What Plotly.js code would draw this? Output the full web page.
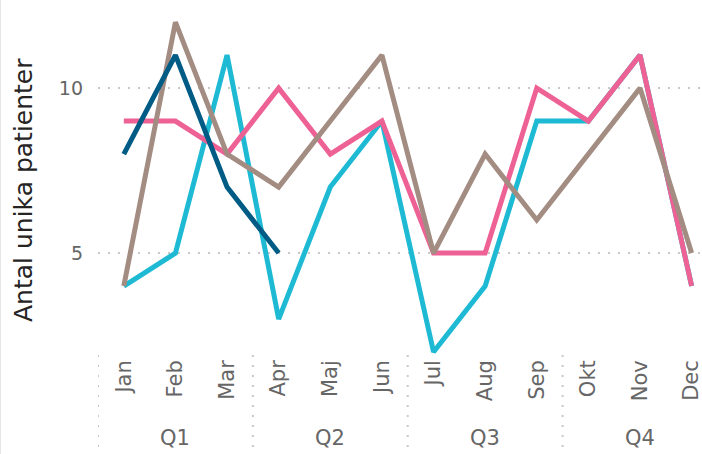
<!DOCTYPE html>
<html>
<head>
<meta charset="utf-8">
<script src="https://cdn.plot.ly/plotly-3.0.1.min.js"></script>
<style>
html,body{margin:0;padding:0;background:#fff;}
#chart{width:702px;height:454px;box-sizing:border-box;border-left:1px solid #e6e6e6;}
</style>
</head>
<body>
<div id="chart"></div>
<script>
const months = ["Jan","Feb","Mar","Apr","Maj","Jun","Jul","Aug","Sep","Okt","Nov","Dec"];
const quarters = ["Q1","Q2","Q3","Q4"];
const monthsPerQuarter = 3;
const seriesCyan  = [4, 5, 11, 3, 7, 9, 2, 4, 9, 9, 11, 4];
const seriesPink  = [9, 9, 8, 10, 8, 9, 5, 5, 10, 9, 11, 4];
const seriesBrown = [4, 12, 8, 7, 9, 11, 5, 8, 6, 8, 10, 5];
const seriesNavy  = [8, 11, 7, 5];
const yTicks = [5, 10];
const yTitle = 'Antal unika patienter';

const FONT = 'DejaVu Sans, Verdana, sans-serif';
const mk = (y, color) => ({
  x: months.slice(0, y.length), y: y, type: 'scatter', mode: 'lines',
  line: {color: color, width: 5}, hoverinfo: 'skip', showlegend: false
});
const data = [
  mk(seriesCyan, '#1EBAD4'),
  mk(seriesPink, '#EE6194'),
  mk(seriesBrown, '#A38C82'),
  mk(seriesNavy, '#005B85')
];

const plotH = 355, totalH = 454, marginL = 97, plotW = 702 - marginL;
const shapes = [];
const annotations = [];
quarters.forEach((q, i) => {
  const start = i * monthsPerQuarter;
  shapes.push({type:'line', xref:'x', yref:'paper', x0:start-0.5, x1:start-0.5,
    y0:0, y1:-(totalH-plotH)/plotH, line:{color:'#c8c8c8', width:2, dash:'2px,8px'}});
  annotations.push({text:q, xref:'x', yref:'paper', x:start+(monthsPerQuarter-1)/2,
    y:(plotH-438)/plotH, yanchor:'middle', xanchor:'center', showarrow:false,
    font:{family:FONT, size:21, color:'#666666'}});
});
annotations.push({text: yTitle, xref:'paper', yref:'paper', textangle:-90,
  x: -(marginL-23)/plotW, y: (plotH-190)/plotH, xanchor:'center', yanchor:'middle',
  showarrow:false, font:{family:FONT, size:25, color:'#252423'}});

const layout = {
  width: 702, height: 454,
  margin: {l: marginL, r: 0, t: 0, b: totalH - plotH},
  paper_bgcolor: '#fff', plot_bgcolor: '#fff',
  font: {family: FONT, color: '#666666'},
  xaxis: {
    type: 'category', range: [-0.5, 11.22], categoryarray: months,
    tickangle: -90, tickfont: {family: FONT, size: 21, color: '#666666'},
    showgrid: false, zeroline: false, showline: false, ticks: '', fixedrange: true
  },
  yaxis: {
    range: [1.91, 12.67], tickvals: yTicks, ticktext: yTicks.map(String),
    tickfont: {family: FONT, size: 19, color: '#666666'}, ticks: '', ticklabelstandoff: 14,
    showgrid: true, gridcolor: '#c8c8c8', gridwidth: 2, griddash: '2px,8px',
    zeroline: false, showline: false
  },
  shapes: shapes,
  annotations: annotations
};
Plotly.newPlot('chart', data, layout, {displayModeBar: false, staticPlot: true});
</script>
</body>
</html>
